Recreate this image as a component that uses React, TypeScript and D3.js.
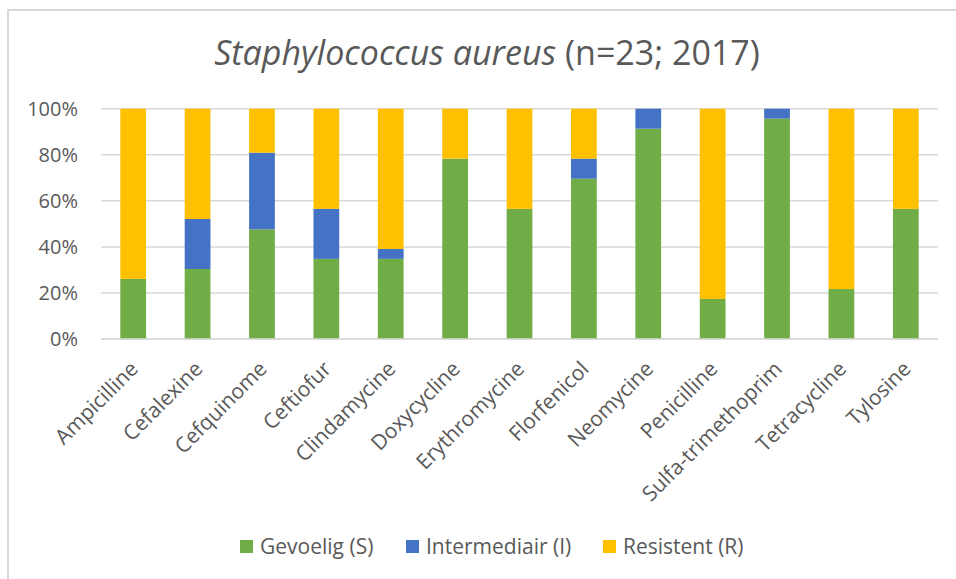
import React, { useEffect, useRef } from "react";
import * as d3 from "d3";

const categories = [
  "Ampicilline",
  "Cefalexine",
  "Cefquinome",
  "Ceftiofur",
  "Clindamycine",
  "Doxycycline",
  "Erythromycine",
  "Florfenicol",
  "Neomycine",
  "Penicilline",
  "Sulfa-trimethoprim",
  "Tetracycline",
  "Tylosine",
];

// percentages per category
const gevoelig = [26.1, 30.4, 47.6, 34.8, 34.8, 78.3, 56.5, 69.6, 91.3, 17.4, 95.7, 21.7, 56.5];
const intermediair = [0, 21.7, 33.3, 21.7, 4.3, 0, 0, 8.7, 8.7, 0, 4.3, 0, 0];
const resistent = [73.9, 47.9, 19.1, 43.5, 60.9, 21.7, 43.5, 21.7, 0, 82.6, 0, 78.3, 43.5];

const seriesNames = ["Gevoelig (S)", "Intermediair (I)", "Resistent (R)"];
const seriesColors = ["#70AD47", "#4472C4", "#FFC000"];
const yTicks = [0, 20, 40, 60, 80, 100];

const W = 956;
const H = 579;
const FONT = "'Open Sans', sans-serif";

const App = () => {
  const ref = useRef<SVGSVGElement | null>(null);

  useEffect(() => {
    const svg = d3.select(ref.current);
    svg.selectAll("*").remove();

    const margin = { left: 101, right: 18, top: 108.7, bottom: 240 };
    const plotW = W - margin.left - margin.right;
    const plotH = H - margin.top - margin.bottom;

    // chart border (only top and left are visible in the crop)
    svg
      .append("rect")
      .attr("x", 8)
      .attr("y", 10)
      .attr("width", W + 20)
      .attr("height", H + 20)
      .attr("fill", "#fff")
      .attr("stroke", "#D9D9D9")
      .attr("stroke-width", 2);

    svg
      .append("text")
      .attr("x", 487)
      .attr("y", 65)
      .attr("text-anchor", "middle")
      .style("font-family", FONT)
      .style("font-size", "34px")
      .attr("fill", "#595959")
      .call((t) => {
        t.append("tspan").style("font-style", "italic").text("Staphylococcus aureus");
        t.append("tspan").text(" (n=23; 2017)");
      });

    const rows = categories.map((c, i) => ({
      cat: c,
      s: gevoelig[i],
      i: intermediair[i],
      r: resistent[i],
    }));
    const stack = d3.stack<any>().keys(["s", "i", "r"]);
    const layers = stack(rows);

    const x = d3.scaleBand().domain(categories).range([0, plotW]).paddingInner(0.6).paddingOuter(0.3);
    const y = d3.scaleLinear().domain([0, 100]).range([plotH, 0]);

    const g = svg.append("g").attr("transform", `translate(${margin.left},${margin.top})`);

    g.append("g")
      .selectAll("line")
      .data(yTicks)
      .join("line")
      .attr("x1", 0)
      .attr("x2", plotW)
      .attr("y1", (d) => y(d))
      .attr("y2", (d) => y(d))
      .attr("stroke", "#D9D9D9")
      .attr("stroke-width", 1.5);

    g.append("g")
      .selectAll("text")
      .data(yTicks)
      .join("text")
      .attr("x", -23)
      .attr("y", (d) => y(d))
      .attr("dy", "0.36em")
      .attr("text-anchor", "end")
      .style("font-family", FONT)
      .style("font-size", "20px")
      .attr("fill", "#595959")
      .text((d) => d + "%");

    g.append("g")
      .selectAll("g")
      .data(layers)
      .join("g")
      .attr("fill", (d, i) => seriesColors[i])
      .selectAll("rect")
      .data((d) => d)
      .join("rect")
      .attr("x", (d: any) => x(d.data.cat)!)
      .attr("width", x.bandwidth())
      .attr("y", (d) => y(d[1]))
      .attr("height", (d) => Math.max(0, y(d[0]) - y(d[1])));

    // redraw baseline over bars
    g.append("line")
      .attr("x1", 0)
      .attr("x2", plotW)
      .attr("y1", y(0))
      .attr("y2", y(0))
      .attr("stroke", "#D9D9D9")
      .attr("stroke-width", 1.5);

    g.append("g")
      .selectAll("text")
      .data(categories)
      .join("text")
      .attr(
        "transform",
        (d) => `translate(${x(d)! + x.bandwidth() / 2 + 1},${plotH + 26}) rotate(-45)`
      )
      .attr("text-anchor", "end")
      .attr("dy", "0.35em")
      .style("font-family", FONT)
      .style("font-size", "21px")
      .attr("fill", "#595959")
      .text((d) => d);

    const legend = svg.append("g").attr("transform", "translate(0,547)");
    const legendX = [240, 406, 603];
    seriesNames.forEach((name, i) => {
      const lg = legend.append("g").attr("transform", `translate(${legendX[i]},0)`);
      lg.append("rect").attr("x", 0).attr("y", -7).attr("width", 13).attr("height", 13).attr("fill", seriesColors[i]);
      lg.append("text")
        .attr("x", 20)
        .attr("dy", "0.35em")
        .style("font-family", FONT)
        .style("font-size", "21px")
        .attr("fill", "#595959")
        .text(name);
    });
  }, []);

  return (
    <svg
      ref={ref}
      width={W}
      height={H}
      style={{ position: "absolute", left: 0, top: 0, background: "#fff" }}
    />
  );
};

export default App;
